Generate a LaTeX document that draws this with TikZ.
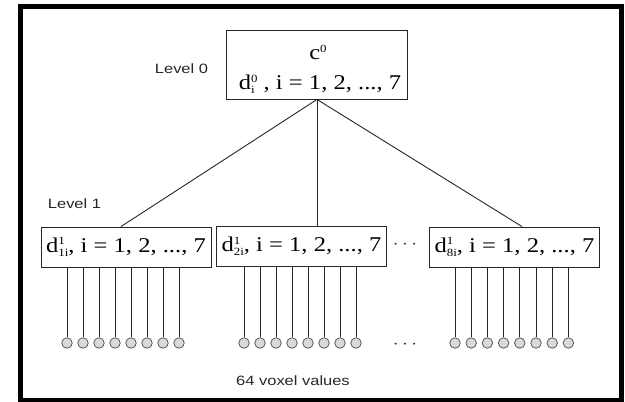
\documentclass[tikz,border=0pt]{standalone}
\usepackage{fontspec}
\setmainfont{Liberation Serif}
\newfontfamily\labelfont{Liberation Sans}
\newcommand\supsub[2]{%
  \begingroup
  \setbox0=\hbox{\fontsize{11}{11}\selectfont #1}%
  \setbox2=\hbox{\fontsize{11}{11}\selectfont #2}%
  \ifdim\wd0>\wd2 \dimen0=\wd0 \else \dimen0=\wd2 \fi
  \makebox[\dimen0][l]{\rlap{\raisebox{7.5pt}{\copy0}}\raisebox{-4pt}{\copy2}}%
  \endgroup}
\newcommand\seq{i = 1, 2, ..., 7}
\begin{document}
\begin{tikzpicture}[x=1pt,y=-1pt,
  box/.style={draw=black!85, line width=0.9pt, inner sep=0pt, minimum height=40pt, minimum width=170pt},
  mtext/.style={inner sep=0pt, font=\fontsize{21}{22}\selectfont, xscale=1.17},
  lab/.style={inner sep=0pt, font=\labelfont\fontsize{13.5}{14}\selectfont, xscale=1.22, text=black!85},
  dotsl/.style={inner sep=0pt, font=\fontsize{17}{17}\selectfont, xscale=1.2, text=black!85},
  voxel/.style={circle, draw=black!65, fill=gray!30, line width=0.8pt, minimum size=10.5pt, inner sep=0pt},
  link/.style={draw=black!85, line width=0.9pt}]
\useasboundingbox (0,0) rectangle (625,402);
\draw[line width=5pt] (20,6) rectangle (621.5,400.5);

% top box
\node[box, minimum width=181pt, minimum height=69pt] (top) at (317,64.5) {};
\node[mtext] (c0) at (318,54.5) {c\supsub{0}{}};
\node[mtext] (d0) at (320,84.5) {d\supsub{0}{i} , \seq};
\node[lab] (lv0) at (181.5,69) {Level 0};
\node[lab] (lv1) at (74.5,204) {Level 1};

% level 1 boxes
\node[box] (b1) at (126,247) {\scalebox{1.17}[1]{\fontsize{21}{22}\selectfont d\supsub{1}{1i}, \seq}};
\node[box] (b2) at (301.5,246.5) {\scalebox{1.17}[1]{\fontsize{21}{22}\selectfont d\supsub{1}{2i}, \seq}};
\node[box] (b3) at (514.5,247) {\scalebox{1.17}[1]{\fontsize{21}{22}\selectfont d\supsub{1}{8i}, \seq}};
\node[dotsl] (dtop) at (405,245) {$\cdots$};

\draw[link] (top.south) -- ([xshift=-5pt]b1.north);
\draw[link] (top.south) -- (b2.north -| top.south);
\draw[link] (top.south) -- ([xshift=7.5pt]b3.north);

% voxels
\foreach \b/\x/\s in {1/67/16, 2/244/16, 3/455/16.2}{
  \foreach \k in {0,...,7}{
    \node[voxel] (v\b-\k) at ({\x+\k*\s},343) {};
    \draw[link] (v\b-\k |- b\b.south) -- (v\b-\k);
  }
}
\node[dotsl] (dbot) at (405,345) {$\cdots$};
\node[lab] (vox) at (293,381) {64 voxel values};
\end{tikzpicture}
\end{document}
